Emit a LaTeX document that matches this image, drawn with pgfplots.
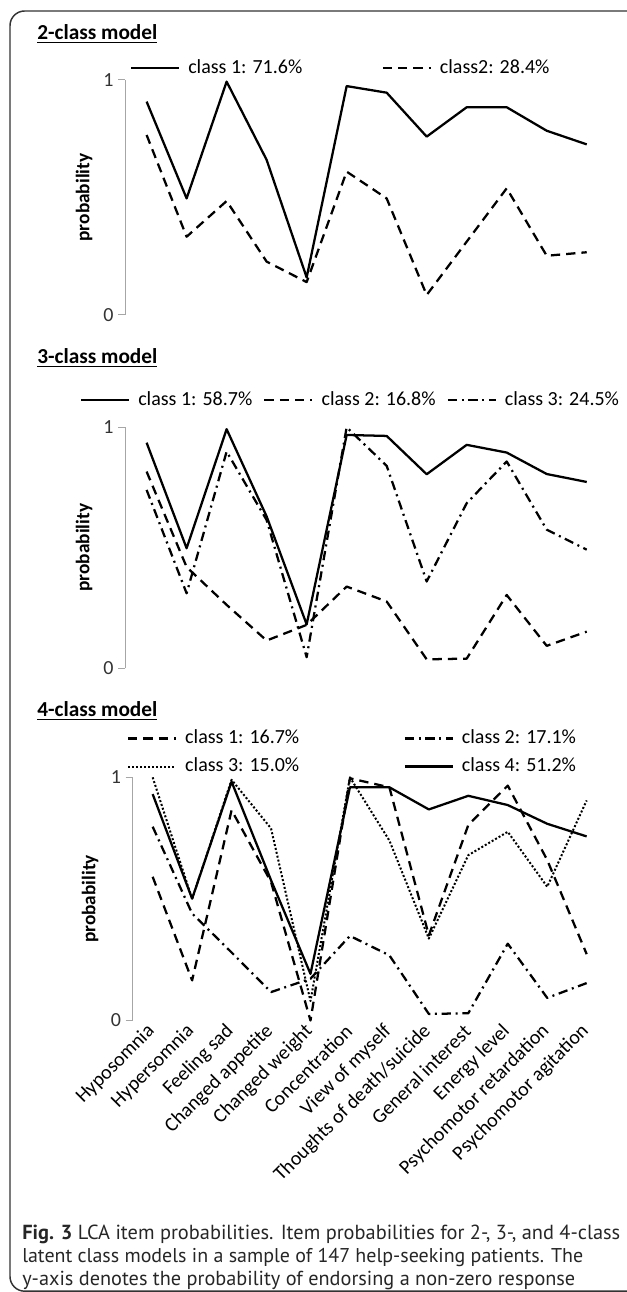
\documentclass[border=0pt]{standalone}
\usepackage{graphicx}
\usepackage{pgfplots}
\usepackage{pgfplotstable}
\pgfplotsset{compat=1.18}
\usepackage{fontspec}
\setmainfont{Carlito}
\newfontfamily\capfont{PT Sans}

\pgfplotstableread{
x c1 c2
0 0.908 0.766
1 0.496 0.333
2 0.993 0.485
3 0.660 0.227
4 0.160 0.140
5 0.974 0.610
6 0.946 0.496
7 0.759 0.085
8 0.884 0.312
9 0.884 0.539
10 0.784 0.252
11 0.726 0.267
}\tabA

\pgfplotstableread{
x c1 c2 c3
0 0.936 0.816 0.740
1 0.498 0.420 0.311
2 0.992 0.263 0.899
3 0.630 0.115 0.615
4 0.182 0.180 0.046
5 0.968 0.339 1.000
6 0.964 0.277 0.840
7 0.805 0.037 0.360
8 0.927 0.040 0.685
9 0.895 0.304 0.858
10 0.806 0.093 0.575
11 0.773 0.152 0.492
}\tabB

\pgfplotstableread{
x c1 c2 c3 c4
0 0.591 0.797 1.000 0.931
1 0.165 0.440 0.500 0.501
2 0.865 0.280 0.990 0.982
3 0.570 0.117 0.790 0.577
4 0.000 0.172 0.080 0.192
5 0.996 0.348 1.000 0.959
6 0.959 0.268 0.740 0.959
7 0.350 0.027 0.337 0.868
8 0.804 0.030 0.680 0.924
9 0.966 0.316 0.776 0.886
10 0.660 0.093 0.550 0.809
11 0.273 0.154 0.905 0.757
}\tabC

\pgfplotsset{
 lcabase/.style={
  scale only axis, clip=false,
  axis x line=bottom, axis y line=left,
  x axis line style={draw=none},
  y axis line style={draw=black!35, line width=0.75pt, -},
  ymin=0, ymax=1, ytick={0,1},
  tick align=outside, major tick length=5pt,
  ytick style={draw=black!35, line width=0.75pt},
  xtick style={draw=none},
  /pgf/number format/assume math mode=true,
  tick label style={font=\fontsize{15}{18}\selectfont, text=black!80},
  ylabel={probability},
  ylabel style={font=\bfseries\fontsize{14.5}{17}\selectfont, anchor=center},
  legend style={draw=none, fill=none, anchor=west, inner sep=0pt, outer sep=0pt,
    font=\fontsize{15}{18}\selectfont, column sep=5pt,
    nodes={inner sep=1pt, text height=11pt, text depth=3pt}},
  legend image code/.code={\draw[##1] (0pt,0pt) -- (36pt,0pt);},
  every axis plot/.append style={line width=1.7pt, black, line join=round},
 },
 sld/.style={solid, black, no markers},
 dsh/.style={black, no markers, dash pattern=on 7pt off 4.5pt},
 dshdot/.style={black, no markers, dash pattern=on 7pt off 3.5pt on 1.5pt off 3.5pt},
 dts/.style={black, no markers, line width=1.5pt, dash pattern=on 1.5pt off 1.5pt},
}

\begin{document}
\begin{tikzpicture}
\useasboundingbox (0,0) rectangle (470.25pt,969pt);
\draw[black!80, line width=1.1pt, rounded corners=11pt] (480pt,960.75pt) -- (7.5pt,960.75pt) -- (7.5pt,0.6pt) -- (480pt,0.6pt);

% titles
\node[anchor=base west, inner sep=0pt, font=\bfseries\fontsize{16}{19}\selectfont] at (27.75pt,939pt) {\underline{2-class model}};
\node[anchor=base west, inner sep=0pt, font=\bfseries\fontsize{16}{19}\selectfont] at (27.75pt,696pt) {\underline{3-class model}};
\node[anchor=base west, inner sep=0pt, font=\bfseries\fontsize{16}{19}\selectfont] at (27.75pt,431.25pt) {\underline{4-class model}};

% panel 1
\begin{axis}[lcabase, at={(93.75pt,732.75pt)}, anchor=south west,
  width=361.3pt, height=176.25pt, xmin=-0.54, xmax=11.5, xtick=\empty,
  ylabel style={at={(axis description cs:-0.085,0.5)}},
  legend columns=2,
  legend style={at={(axis description cs:0.0104,1.050)},
    /tikz/every even column/.append style={column sep=58.5pt}}]
\addplot[sld] table[x=x,y=c1] {\tabA};
\addlegendentry{class 1: 71.6\%}
\addplot[dsh] table[x=x,y=c2] {\tabA};
\addlegendentry{class2: 28.4\%}
\end{axis}

% panel 2
\begin{axis}[lcabase, at={(93.75pt,467.8pt)}, anchor=south west,
  width=361.3pt, height=180.75pt, xmin=-0.54, xmax=11.5, xtick=\empty,
  ylabel style={at={(axis description cs:-0.085,0.5)}},
  legend columns=3,
  legend style={at={(axis description cs:-0.0934,1.113)},
    /tikz/every even column/.append style={column sep=7.25pt}}]
\addplot[sld] table[x=x,y=c1] {\tabB};
\addlegendentry{class 1: 58.7\%}
\addplot[dsh] table[x=x,y=c2] {\tabB};
\addlegendentry{class 2: 16.8\%}
\addplot[dshdot] table[x=x,y=c3] {\tabB};
\addlegendentry{class 3: 24.5\%}
\end{axis}

% panel 3
\begin{axis}[lcabase, at={(99.2pt,203.6pt)}, anchor=south west,
  width=355.6pt, height=182.4pt, xmin=-0.517, xmax=11.5,
  xtick={0,1,2,3,4,5,6,7,8,9,10,11},
  xticklabels={Hyposomnia,Hypersomnia,Feeling sad,Changed appetite,Changed weight,Concentration,View of myself,Thoughts of death/suicide,General interest,Energy level,Psychomotor retardation,Psychomotor agitation},
  xticklabel style={rotate=45, anchor=east, inner sep=1pt, text=black},
  ylabel style={at={(axis description cs:-0.089,0.5)}},
  legend columns=2,
  legend style={at={(axis description cs:-0.0112,1.102)},
    /tikz/every even column/.append style={column sep=77.3pt}, row sep=5pt}]
\addplot[dsh] table[x=x,y=c1] {\tabC};
\addlegendentry{class 1: 16.7\%}
\addplot[dshdot] table[x=x,y=c2] {\tabC};
\addlegendentry{class 2: 17.1\%}
\addplot[dts] table[x=x,y=c3] {\tabC};
\addlegendentry{class 3: 15.0\%}
\addplot[sld] table[x=x,y=c4] {\tabC};
\addlegendentry{class 4: 51.2\%}
\end{axis}

% caption
\node[anchor=base west, inner sep=0pt, text=black!85] at (16.5pt,39pt) {\resizebox{448.5pt}{!}{\capfont\fontsize{13}{15}\selectfont\textbf{Fig. 3} LCA item probabilities. Item probabilities for 2-, 3-, and 4-class}};
\node[anchor=base west, inner sep=0pt, text=black!85] at (16.5pt,22pt) {\resizebox{420.75pt}{!}{\capfont\fontsize{13}{15}\selectfont latent class models in a sample of 147 help-seeking patients. The}};
\node[anchor=base west, inner sep=0pt, text=black!85] at (16.5pt,5pt) {\resizebox{414.75pt}{!}{\capfont\fontsize{13}{15}\selectfont y-axis denotes the probability of endorsing a non-zero response}};
\end{tikzpicture}
\end{document}
